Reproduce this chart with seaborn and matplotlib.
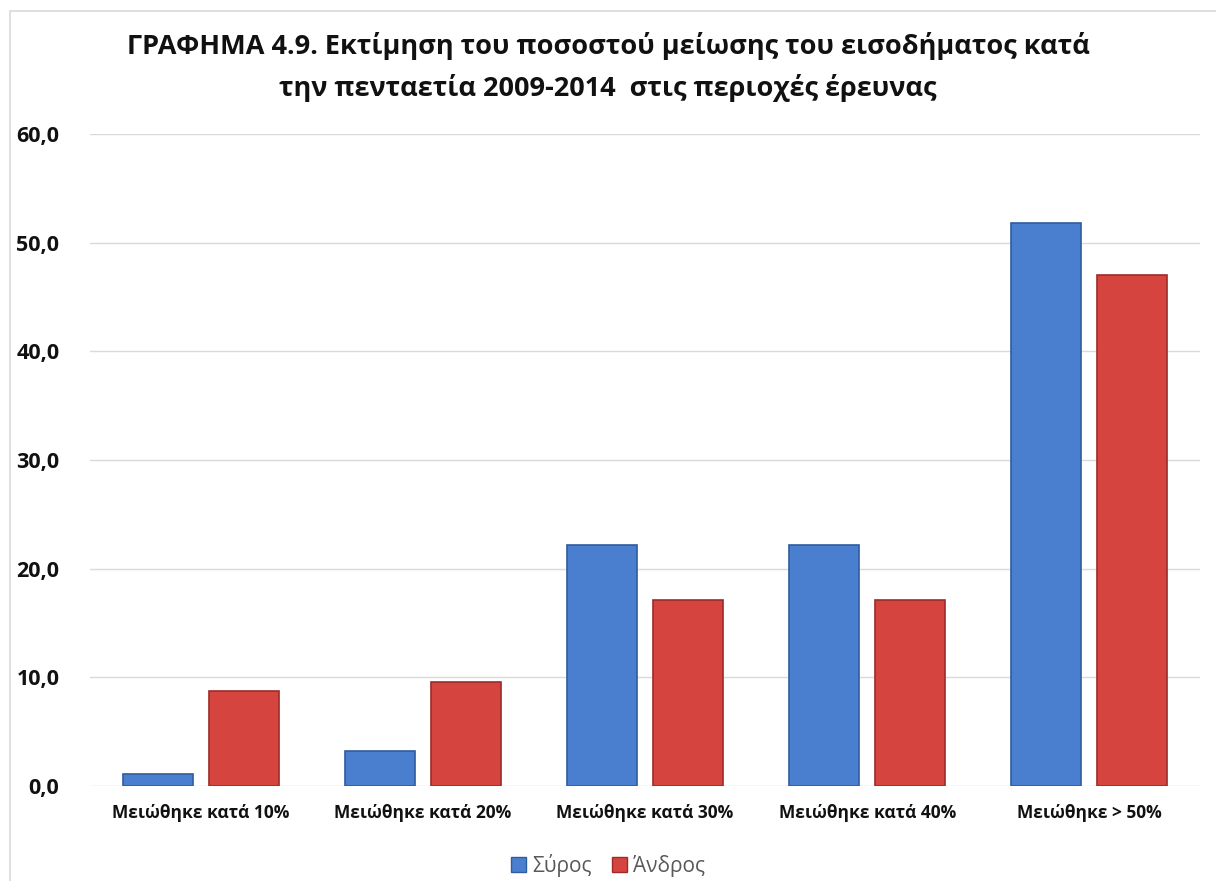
import matplotlib
matplotlib.use("Agg")
import matplotlib.pyplot as plt
import matplotlib.patches as mpatches
import seaborn as sns
import pandas as pd
from matplotlib.ticker import FuncFormatter

categories = ["Μειώθηκε κατά 10%", "Μειώθηκε κατά 20%", "Μειώθηκε κατά 30%",
              "Μειώθηκε κατά 40%", "Μειώθηκε > 50%"]
syros = [1.1, 3.2, 22.2, 22.2, 51.8]
andros = [8.7, 9.6, 17.1, 17.1, 47.0]
series_names = ["Σύρος", "Άνδρος"]
colors = ["#4A7FCF", "#D5443F"]
edges = ["#2F5C9E", "#9E2B28"]

title = ("ΓΡΑΦΗΜΑ 4.9. Εκτίμηση του ποσοστού μείωσης του εισοδήματος κατά\n"
         "την πενταετία 2009-2014  στις περιοχές έρευνας")

df = pd.DataFrame({
    "cat": categories * 2,
    "value": syros + andros,
    "region": [series_names[0]] * len(categories) + [series_names[1]] * len(categories),
})

sns.set_theme(style="white")
plt.rcParams["font.family"] = ["Open Sans", "DejaVu Sans"]

fig = plt.figure(figsize=(12.16, 8.81), dpi=100)
ax = fig.add_axes([0.074, 0.108, 0.913, 0.740])

sns.barplot(data=df, x="cat", y="value", hue="region", palette=colors,
            width=0.775, gap=0.19, ax=ax, legend=False, saturation=1)

# darker edges to hint at the bevel look
for i, container in enumerate(ax.containers):
    for bar in container:
        bar.set_edgecolor(edges[i])
        bar.set_linewidth(1.2)

ax.set_ylim(0, 60)
ax.set_yticks(range(0, 61, 10))
ax.yaxis.set_major_formatter(FuncFormatter(lambda v, p: f"{v:.1f}".replace(".", ",")))
ax.grid(axis="y", color="#D9D9D9", linewidth=1.0)
ax.set_axisbelow(True)
for s in ax.spines.values():
    s.set_visible(False)
ax.set_xlabel("")
ax.set_ylabel("")
ax.tick_params(axis="y", length=0, pad=22, labelsize=15.5, labelcolor="#111111")
ax.tick_params(axis="x", length=0, pad=13, labelsize=12.5, labelcolor="#111111")
for lbl in ax.get_yticklabels() + ax.get_xticklabels():
    lbl.set_fontweight("bold")

fig.text(0.5, 0.924, title, ha="center", va="center", fontsize=19.5,
         fontweight="bold", linespacing=1.6, color="#111111")

handles = [mpatches.Patch(facecolor=c, edgecolor=e, label=n)
           for c, e, n in zip(colors, edges, series_names)]
fig.legend(handles=handles, loc="center", bbox_to_anchor=(0.5, 0.018), ncol=2,
           frameon=False, fontsize=15, handlelength=0.7, handleheight=0.7,
           handletextpad=0.3, columnspacing=1.0, labelcolor="#595959")

# chart frame
fig.patches.append(mpatches.Rectangle((0.008, -0.01), 1.2, 0.997, transform=fig.transFigure,
                                      fill=False, edgecolor="#D9D9D9", linewidth=1.2))

fig.savefig("out.png", dpi=100)
